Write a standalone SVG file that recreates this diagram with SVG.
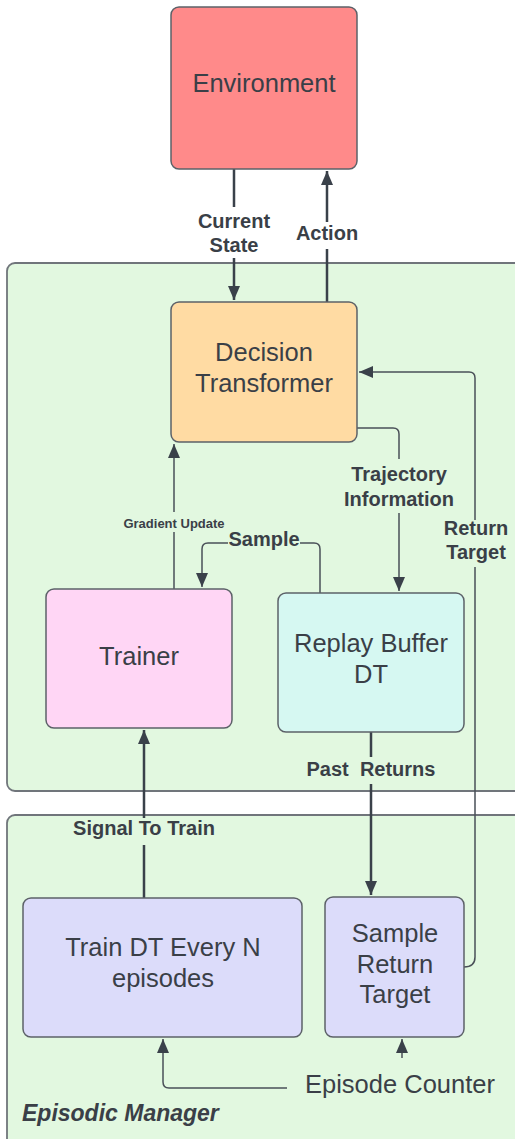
<svg xmlns="http://www.w3.org/2000/svg" width="515" height="1139" viewBox="0 0 515 1139">
<style>
.cont{fill:#e2f8e0;stroke:#70757b;stroke-width:1.8}
.node{stroke:#5c6168;stroke-width:1.5}
.nt{font-family:"Liberation Sans",Arial,sans-serif;font-size:25.5px;fill:#3a3f47;text-anchor:middle}
.lbl{font-family:"Liberation Sans",Arial,sans-serif;font-size:20px;font-weight:bold;fill:#3a3f47;text-anchor:middle;white-space:pre}
.small{font-size:13px}
.thick{fill:none;stroke:#3a414a;stroke-width:2.5}
.thin{fill:none;stroke:#4a5058;stroke-width:1.5}
</style>
<defs>
<marker id="ah" markerUnits="userSpaceOnUse" markerWidth="14" markerHeight="16" viewBox="0 0 14 16" refX="14" refY="8" orient="auto">
<path d="M0,2 L14,8 L0,14 Z" fill="#3a414a"/>
</marker>
</defs>
<rect width="515" height="1139" fill="#ffffff"/>
<g id="container-agent"><rect class="cont" x="7" y="263" width="520" height="528" rx="8"/></g>
<g id="container-episodic"><rect class="cont" x="7" y="815" width="520" height="340" rx="8"/>
<text x="22" y="1121" style="font-family:'Liberation Sans',Arial,sans-serif;font-size:23px;font-weight:bold;font-style:italic;fill:#3a3f47">Episodic Manager</text></g>
<g id="connectors">
<path class="thick" d="M234,169 V207 M234,258 V300" marker-end="url(#ah)"/>
<path class="thick" d="M327,302 V249 M327,222 V171" marker-end="url(#ah)"/>
<path class="thin" d="M357,428 H393 Q399,428 399,434 V459 M399,513 V591" marker-end="url(#ah)"/>
<path class="thin" d="M464,967 Q475,967 475,957 V567 M475,520 V378 Q475,372 469,372 H359" marker-end="url(#ah)"/>
<path class="thin" d="M174,589 V532 M174,512 V444" marker-end="url(#ah)"/>
<path class="thin" d="M320,593 V549 Q320,543 314,543 H300 M228,543 H208 Q202,543 202,549 V587" marker-end="url(#ah)"/>
<path class="thick" d="M371,732 V757 M371,784 V895" marker-end="url(#ah)"/>
<path class="thick" d="M144,898 V845 M144,818 V730" marker-end="url(#ah)"/>
<path class="thin" d="M287,1088 H169 Q163,1088 163,1082 V1039" marker-end="url(#ah)"/>
<path class="thin" d="M402,1058 V1039" marker-end="url(#ah)"/>
<text class="lbl" x="234" y="228">Current</text>
<text class="lbl" x="234" y="252">State</text>
<text class="lbl" x="327" y="240">Action</text>
<text class="lbl" x="399" y="481">Trajectory</text>
<text class="lbl" x="399" y="506">Information</text>
<text class="lbl" x="476" y="535">Return</text>
<text class="lbl" x="476" y="559">Target</text>
<text class="lbl small" x="174" y="528">Gradient Update</text>
<text class="lbl" x="264" y="546">Sample</text>
<text class="lbl" x="371" y="776">Past  Returns</text>
<text class="lbl" x="144" y="835">Signal To Train</text>
</g>
<g id="environment"><rect class="node" x="171" y="7" width="186" height="162" rx="8" fill="#ff8a8a"/>
<text class="nt" x="264" y="92">Environment</text></g>
<g id="decision-transformer"><rect class="node" x="171" y="302" width="186" height="140" rx="8" fill="#ffdba3"/>
<text class="nt" x="264" y="361">Decision</text><text class="nt" x="264" y="392">Transformer</text></g>
<g id="trainer"><rect class="node" x="46" y="589" width="186" height="139" rx="8" fill="#ffd6f5"/>
<text class="nt" x="139" y="665">Trainer</text></g>
<g id="replay-buffer"><rect class="node" x="278" y="593" width="186" height="139" rx="8" fill="#d6f8f2"/>
<text class="nt" x="371" y="652">Replay Buffer</text><text class="nt" x="371" y="683">DT</text></g>
<g id="train-dt"><rect class="node" x="23" y="898" width="279" height="139" rx="8" fill="#dcdcfa"/>
<text class="nt" x="163" y="956">Train DT Every N</text><text class="nt" x="163" y="987">episodes</text></g>
<g id="sample-return-target"><rect class="node" x="325" y="897" width="139" height="140" rx="8" fill="#dcdcfa"/>
<text class="nt" x="395" y="942">Sample</text><text class="nt" x="395" y="973">Return</text><text class="nt" x="395" y="1003">Target</text></g>
<g id="episode-counter"><text class="nt" x="305" y="1093" style="text-anchor:start">Episode Counter</text></g>
</svg>
